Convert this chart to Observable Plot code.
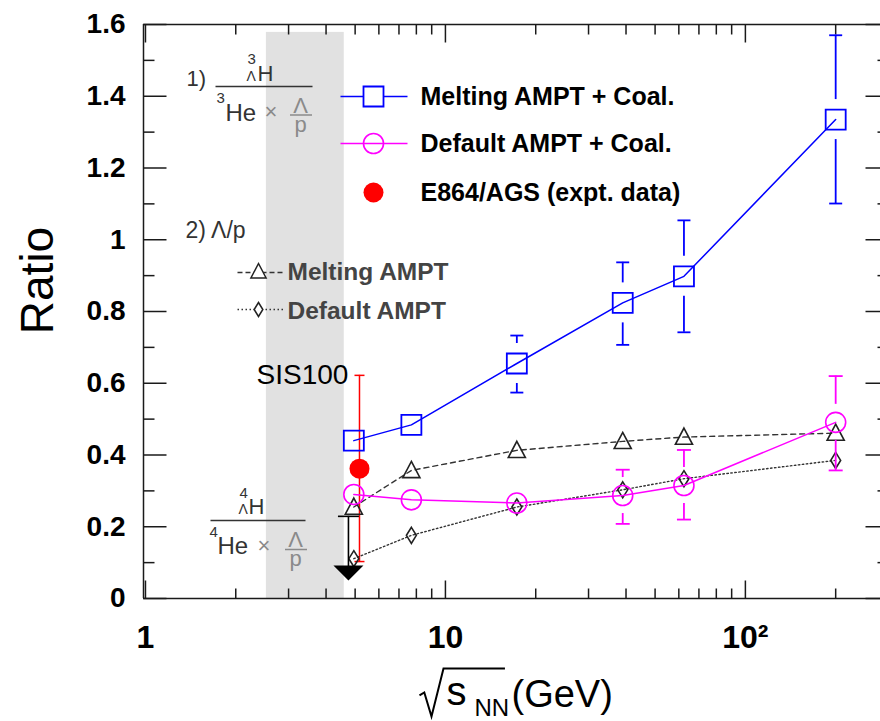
<!DOCTYPE html>
<html>
<head>
<meta charset="utf-8">
<script src="https://cdn.jsdelivr.net/npm/d3@7"></script>
<script src="https://cdn.jsdelivr.net/npm/@observablehq/plot@0.6"></script>
<style>
  html, body { margin: 0; padding: 0; background: #fff; }
  svg { display: block; font-family: "Liberation Sans", Arial, Helvetica, sans-serif; }
</style>
</head>
<body>
<div id="chart"></div>
<script>
// ---------- data ----------
const energies        = [4.95, 7.7, 17.3, 39, 62.4, 200];
const meltingCoal     = [0.440, 0.484, 0.655, 0.824, 0.898, 1.335];
const meltingCoalLow  = [null, null, 0.574, 0.707, 0.742, 1.101];
const meltingCoalHigh = [null, null, 0.733, 0.937, 1.054, 1.570];
const defaultCoal     = [0.290, 0.275, 0.266, 0.287, 0.315, 0.491];
const defaultCoalLow  = [null, null, null, 0.208, 0.220, 0.357];
const defaultCoalHigh = [null, null, null, 0.359, 0.414, 0.620];
const meltingLambdaP  = [0.255, 0.357, 0.413, 0.438, 0.450, 0.461];
const defaultLambdaP  = [0.111, 0.176, 0.255, 0.303, 0.334, 0.385];
const e864Energy = [5.17];
const e864Value  = [0.362];
const e864Low    = [0.103];
const e864High   = [0.622];
const limitEnergy = [4.75];
const limitValue  = [0.229];
const limitTip    = [0.05];
const sis100Range = [2.53, 4.6];
const sis100Top   = 1.578;
const yTicks       = [0, 0.2, 0.4, 0.6, 0.8, 1, 1.2, 1.4, 1.6];
const yTickLabels  = ["0", "0.2", "0.4", "0.6", "0.8", "1", "1.2", "1.4", "1.6"];
const yMinorTicks  = [0.1, 0.3, 0.5, 0.7, 0.9, 1.1, 1.3, 1.5];
const xTicks       = [1, 10, 100];
const xTickLabels  = ["1", "10", "10²"];
const xMinorTicks  = [2, 3, 4, 5, 6, 7, 8, 9, 20, 30, 40, 50, 60, 70, 80, 90, 200];
const seriesNames  = ["Melting AMPT + Coal.", "Default AMPT + Coal.", "E864/AGS (expt. data)"];
const lambdaNames  = ["Melting AMPT", "Default AMPT"];

// ---------- helpers ----------
const xDomain = [0.985, 300];
const yDomain = [0, 1.6];
const rows = (vals, lo, hi) => energies.map((e, i) => ({e, v: vals[i], lo: lo ? lo[i] : null, hi: hi ? hi[i] : null}));
const mc = rows(meltingCoal, meltingCoalLow, meltingCoalHigh);
const dc = rows(defaultCoal, defaultCoalLow, defaultCoalHigh);
const ml = rows(meltingLambdaP);
const dl = rows(defaultLambdaP);
const e864 = e864Energy.map((e, i) => ({e, v: e864Value[i], lo: e864Low[i], hi: e864High[i]}));
const limit = limitEnergy.map((e, i) => ({e, v: limitValue[i], tip: limitTip[i]}));

const sym = f => ({draw(ctx, size) { f(ctx, Math.sqrt(size / Math.PI)); }});
const squareSym  = sym((c, r) => { c.moveTo(-r, -r); c.lineTo(r, -r); c.lineTo(r, r); c.lineTo(-r, r); c.closePath(); });
const triSym     = sym((c, r) => { c.moveTo(0, -r); c.lineTo(0.95 * r, 0.8 * r); c.lineTo(-0.95 * r, 0.8 * r); c.closePath(); });
const diamondSym = sym((c, r) => { c.moveTo(0, -r); c.lineTo(0.62 * r, 0); c.lineTo(0, r); c.lineTo(-0.62 * r, 0); c.closePath(); });
const hLine      = sym((c, r) => { c.moveTo(-r, 0); c.lineTo(r, 0); });
const tickRight  = sym((c, r) => { c.moveTo(0, 0); c.lineTo(r, 0); });
const tickLeft   = sym((c, r) => { c.moveTo(0, 0); c.lineTo(-r, 0); });
const tickDown   = sym((c, r) => { c.moveTo(0, 0); c.lineTo(0, r); });
const tickUp     = sym((c, r) => { c.moveTo(0, 0); c.lineTo(0, -r); });
const arrowHead  = sym((c, r) => { c.moveTo(-r, -r); c.lineTo(r, -r); c.lineTo(0, 0); c.closePath(); });
// radical sign with its vinculum (x-axis title decoration)
const radicalSym = sym((c, r) => { c.moveTo(0, 0.56 * r); c.lineTo(0.1 * r, 0.5 * r); c.lineTo(0.25 * r, r); c.lineTo(0.5 * r, 0); c.lineTo(1.78 * r, 0); });

const ML = 143, MT = 24;
const at = (X, Y) => ({frameAnchor: "top-left", dx: X - ML, dy: Y - MT});

const blue = "#0000ff", magenta = "#ff00ff", red = "#ff0000", ink = "#1a1a1a", fText = "#333", fGrey = "#8a8a8a";
const txt = (s, X, Y, o = {}) => Plot.text([s], {...at(X, Y), text: d => d, textAnchor: "start", lineAnchor: "bottom", fill: fText, fontSize: 22, ...o});

const chart = Plot.plot({
  width: 880,
  height: 721,
  marginLeft: ML,
  marginTop: MT,
  marginRight: 0,
  marginBottom: 123,
  style: {fontFamily: '"Liberation Sans", Arial, Helvetica, sans-serif', background: "#fff", overflow: "hidden"},
  x: {type: "log", domain: xDomain, range: [143, 888], axis: null},
  y: {domain: yDomain, range: [598, 24], axis: null},
  marks: [
    // SIS100 band
    Plot.rect([sis100Range], {x1: d => d[0], x2: d => d[1], y1: 0, y2: sis100Top, fill: "#e1e1e1"}),

    // formula annotations
    txt("1)", 186, 85, {fontSize: 22}),
    txt("3", 247, 63, {fontSize: 15}),
    txt("Λ", 246, 80, {fontSize: 14}),
    txt("H", 257, 80, {fontSize: 22}),
    Plot.dot([0], {...at(263.5, 86), symbol: hLine, r: 48.5, stroke: fText, strokeWidth: 1.5}),
    txt("3", 216, 102, {fontSize: 15}),
    txt("He", 225, 120, {fontSize: 24}),
    txt("×", 264, 118, {fontSize: 22, fill: fGrey}),
    txt("Λ", 300, 112, {fontSize: 22, fill: fGrey, textAnchor: "middle"}),
    Plot.dot([0], {...at(300.5, 114.5), symbol: hLine, r: 11, stroke: fGrey, strokeWidth: 1.5}),
    txt("p", 300, 131, {fontSize: 22, fill: fGrey, textAnchor: "middle"}),

    txt("2) Λ/p", 185, 237, {fontSize: 23}),

    txt("4", 239, 497, {fontSize: 15}),
    txt("Λ", 238, 513, {fontSize: 14}),
    txt("H", 248, 513, {fontSize: 22}),
    Plot.dot([0], {...at(257.5, 520), symbol: hLine, r: 47.5, stroke: fText, strokeWidth: 1.5}),
    txt("4", 209, 536, {fontSize: 15}),
    txt("He", 217, 553, {fontSize: 24}),
    txt("×", 257, 552, {fontSize: 22, fill: fGrey}),
    txt("Λ", 295, 546, {fontSize: 22, fill: fGrey, textAnchor: "middle"}),
    Plot.dot([0], {...at(295.5, 549), symbol: hLine, r: 11, stroke: fGrey, strokeWidth: 1.5}),
    txt("p", 295, 565, {fontSize: 22, fill: fGrey, textAnchor: "middle"}),

    txt("SIS100", 256, 383, {fontSize: 28, fill: "#000"}),

    // frame
    Plot.ruleY(yDomain, {x1: xDomain[0], x2: xDomain[1], stroke: ink, strokeWidth: 1.5}),
    Plot.ruleX(xDomain, {y1: yDomain[0], y2: yDomain[1], stroke: ink, strokeWidth: 1.5}),
    // ticks
    Plot.dot(yTicks, {y: d => d, frameAnchor: "left", symbol: tickRight, r: 23, stroke: ink, strokeWidth: 1.5}),
    Plot.dot(yMinorTicks, {y: d => d, frameAnchor: "left", symbol: tickRight, r: 11, stroke: ink, strokeWidth: 1.5}),
    Plot.dot(yTicks, {x: () => xDomain[1], y: d => d, symbol: tickLeft, r: 23, stroke: ink, strokeWidth: 1.5}),
    Plot.dot(yMinorTicks, {x: () => xDomain[1], y: d => d, symbol: tickLeft, r: 11, stroke: ink, strokeWidth: 1.5}),
    Plot.dot(xTicks, {x: d => d, frameAnchor: "top", symbol: tickDown, r: 18, stroke: ink, strokeWidth: 1.5}),
    Plot.dot(xMinorTicks, {x: d => d, frameAnchor: "top", symbol: tickDown, r: 10, stroke: ink, strokeWidth: 1.5}),
    Plot.dot(xTicks, {x: d => d, frameAnchor: "bottom", symbol: tickUp, r: 18, stroke: ink, strokeWidth: 1.5}),
    Plot.dot(xMinorTicks, {x: d => d, frameAnchor: "bottom", symbol: tickUp, r: 10, stroke: ink, strokeWidth: 1.5}),
    // tick labels
    Plot.text(yTicks, {y: d => d, frameAnchor: "left", dx: -18, textAnchor: "end", lineAnchor: "middle",
      text: (d, i) => yTickLabels[i], fontSize: 28, fontWeight: "bold", fill: "#000"}),
    Plot.text(xTicks, {x: d => d, frameAnchor: "bottom", dy: 39, textAnchor: "middle", lineAnchor: "middle",
      text: (d, i) => xTickLabels[i], fontSize: 32, fontWeight: "bold", fill: "#000"}),

    // axis titles
    Plot.text(["Ratio"], {...at(52, 280), rotate: -90, textAnchor: "middle", lineAnchor: "bottom", fontSize: 46, fill: "#000"}),
    Plot.dot([0], {...at(419, 668), symbol: radicalSym, r: 48, stroke: "#000", strokeWidth: 2, fill: "none"}),
    txt("s", 446, 704, {fontSize: 40, fill: "#000"}),
    txt("NN", 474, 715, {fontSize: 24, fill: "#000"}),
    txt("(GeV)", 511, 706, {fontSize: 38, fill: "#000"}),

    // E864 error bar (under markers)
    Plot.ruleX(e864, {x: "e", y1: "hi", y2: "lo", stroke: red, strokeWidth: 1.5}),
    Plot.dot(e864, {x: "e", y: "hi", symbol: hLine, r: 5, stroke: red, strokeWidth: 1.5}),
    Plot.dot(e864, {x: "e", y: "lo", symbol: hLine, r: 5, stroke: red, strokeWidth: 1.5}),

    // Lambda/p curves
    Plot.line(ml, {x: "e", y: "v", stroke: "#333", strokeWidth: 1.4, strokeDasharray: "5,4"}),
    Plot.dot(ml, {x: "e", y: "v", symbol: triSym, r: 9, stroke: "#222", strokeWidth: 1.6, fill: "none"}),
    Plot.line(dl, {x: "e", y: "v", stroke: "#333", strokeWidth: 1.4, strokeDasharray: "1.5,2.5"}),
    Plot.dot(dl, {x: "e", y: "v", symbol: diamondSym, r: 8, stroke: "#222", strokeWidth: 1.6, fill: "none"}),

    // upper limit arrow (4ΛH)
    Plot.ruleX(limit, {x: "e", y1: "v", y2: "tip", insetBottom: 14, stroke: "#000", strokeWidth: 1.6}),
    Plot.dot(limit, {x: "e", y: "v", symbol: hLine, r: 10.5, stroke: "#000", strokeWidth: 1.6}),
    Plot.dot(limit, {x: "e", y: "tip", symbol: arrowHead, r: 15, fill: "#000", stroke: "none"}),

    // Default AMPT + Coal.
    Plot.line(dc, {x: "e", y: "v", stroke: magenta, strokeWidth: 1.5}),
    Plot.ruleX(dc.filter(d => d.hi != null), {x: "e", y1: "hi", y2: "v", insetBottom: 18, stroke: magenta, strokeWidth: 1.8}),
    Plot.ruleX(dc.filter(d => d.lo != null), {x: "e", y1: "v", y2: "lo", insetTop: 18, stroke: magenta, strokeWidth: 1.8}),
    Plot.dot(dc.filter(d => d.hi != null), {x: "e", y: "hi", symbol: hLine, r: 7, stroke: magenta, strokeWidth: 1.8}),
    Plot.dot(dc.filter(d => d.lo != null), {x: "e", y: "lo", symbol: hLine, r: 7, stroke: magenta, strokeWidth: 1.8}),
    Plot.dot(dc, {x: "e", y: "v", symbol: "circle", r: 10, stroke: magenta, strokeWidth: 1.6, fill: "none"}),

    // Melting AMPT + Coal.
    Plot.line(mc, {x: "e", y: "v", stroke: blue, strokeWidth: 1.5}),
    Plot.ruleX(mc.filter(d => d.hi != null), {x: "e", y1: "hi", y2: "v", insetBottom: 20, stroke: blue, strokeWidth: 1.8}),
    Plot.ruleX(mc.filter(d => d.lo != null), {x: "e", y1: "v", y2: "lo", insetTop: 20, stroke: blue, strokeWidth: 1.8}),
    Plot.dot(mc.filter(d => d.hi != null), {x: "e", y: "hi", symbol: hLine, r: 6.5, stroke: blue, strokeWidth: 1.8}),
    Plot.dot(mc.filter(d => d.lo != null), {x: "e", y: "lo", symbol: hLine, r: 6.5, stroke: blue, strokeWidth: 1.8}),
    Plot.dot(mc, {x: "e", y: "v", symbol: squareSym, r: 10, stroke: blue, strokeWidth: 1.8, fill: "none"}),

    // E864 point
    Plot.dot(e864, {x: "e", y: "v", r: 10, fill: red, stroke: "none"}),

    // main legend
    Plot.dot([0], {...at(373.5, 96), symbol: hLine, r: 33.5, stroke: blue, strokeWidth: 1.5}),
    Plot.dot([0], {...at(373, 96), symbol: squareSym, r: 10, stroke: blue, strokeWidth: 1.8, fill: "#fff"}),
    Plot.dot([0], {...at(373.5, 143), symbol: hLine, r: 33.5, stroke: magenta, strokeWidth: 1.5}),
    Plot.dot([0], {...at(373, 143), symbol: "circle", r: 10, stroke: magenta, strokeWidth: 1.6, fill: "none"}),
    Plot.dot([0], {...at(373, 192), r: 10, fill: red, stroke: "none"}),
    txt(seriesNames[0], 420, 104, {fontSize: 25, fontWeight: "bold", fill: "#000"}),
    txt(seriesNames[1], 420, 151, {fontSize: 25, fontWeight: "bold", fill: "#000"}),
    txt(seriesNames[2], 420, 200, {fontSize: 25, fontWeight: "bold", fill: "#000"}),

    // Lambda/p legend
    Plot.dot([0], {...at(261, 272), symbol: hLine, r: 24, stroke: "#333", strokeWidth: 1.4, strokeDasharray: "5,3"}),
    Plot.dot([0], {...at(258, 271), symbol: triSym, r: 8, stroke: "#222", strokeWidth: 1.5, fill: "#fff"}),
    Plot.dot([0], {...at(261, 309), symbol: hLine, r: 24, stroke: "#333", strokeWidth: 1.4, strokeDasharray: "1.5,2.5"}),
    Plot.dot([0], {...at(258, 309), symbol: diamondSym, r: 7, stroke: "#222", strokeWidth: 1.5, fill: "#fff"}),
    txt(lambdaNames[0], 287, 279, {fontSize: 24.5, fontWeight: "bold", fill: "#444"}),
    txt(lambdaNames[1], 287, 318, {fontSize: 24.5, fontWeight: "bold", fill: "#444"})
  ]
});
document.getElementById("chart").appendChild(chart);
</script>
</body>
</html>
